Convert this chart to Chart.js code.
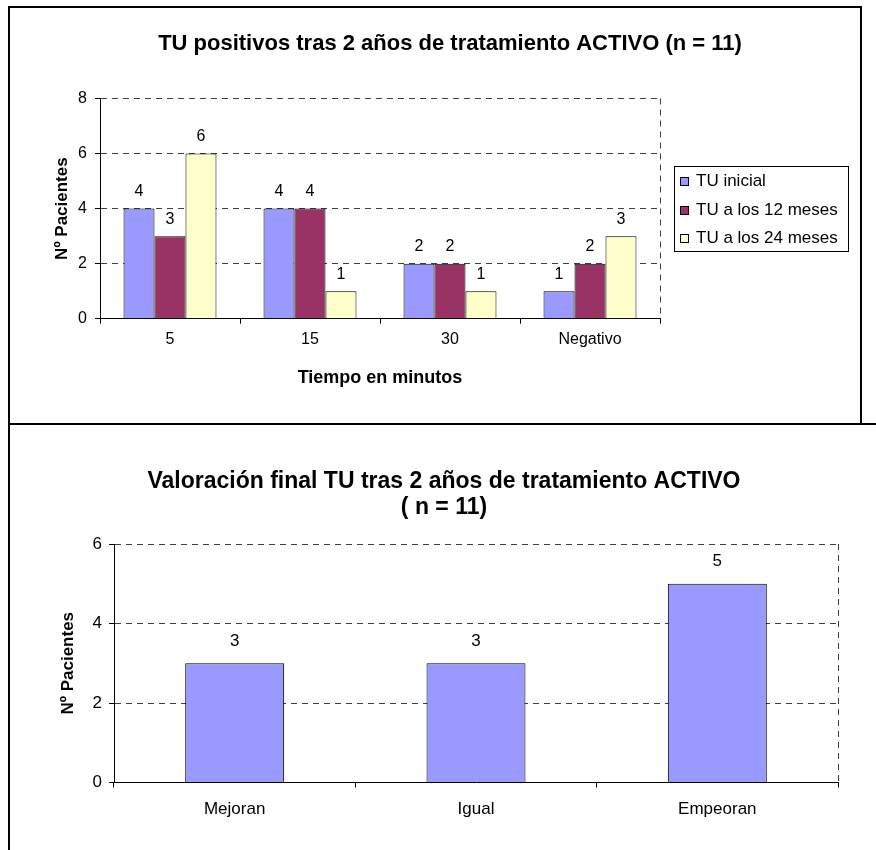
<!DOCTYPE html>
<html lang="es">
<head>
<meta charset="utf-8">
<title>TU tras 2 años de tratamiento ACTIVO</title>
<script src="https://cdn.jsdelivr.net/npm/chart.js@4/dist/chart.umd.min.js"></script>
<style>
  html, body { margin: 0; padding: 0; background: #fff; }
  body { width: 876px; height: 850px; position: relative; overflow: hidden; }
  .rule { position: absolute; background: #000; }
  canvas { position: absolute; left: 0; }
</style>
</head>
<body>
<!-- frame lines around the two charts -->
<div class="rule" style="left:8px;top:6px;width:854px;height:2px;"></div>
<div class="rule" style="left:8px;top:6px;width:2px;height:844px;"></div>
<div class="rule" style="left:860px;top:6px;width:2px;height:419px;"></div>
<div class="rule" style="left:8px;top:423px;width:868px;height:2px;"></div>

<canvas id="chartTiempos" width="876" height="422" style="top:0;"></canvas>
<canvas id="chartValoracion" width="876" height="425" style="top:425px;"></canvas>

<script>
// ---- data ----
const tiempos = ['5', '15', '30', 'Negativo'];
const serieNombres = ['TU inicial', 'TU a los 12 meses', 'TU a los 24 meses'];
const tuInicial = [4, 4, 2, 1];
const tu12Meses = [3, 4, 2, 2];
const tu24Meses = [6, 1, 1, 3];
const ticksTiempos = [0, 2, 4, 6, 8];

const valoraciones = ['Mejoran', 'Igual', 'Empeoran'];
const pacientesFinal = [3, 3, 5];
const ticksValoracion = [0, 2, 4, 6];

// ---- shared styling ----
const FONT = 'Arial, "Liberation Sans", sans-serif';
Chart.defaults.font.family = FONT;
Chart.defaults.color = '#000';
const GRID_GREY = '#404040';
const DASH = [6, 5];

// centre the chart title on a chosen x instead of the padded layout box
const titleCentre = {
  id: 'titleCentre',
  afterLayout(chart, args, opts) {
    const t = chart.titleBlock;
    if (!t || opts.x === undefined) return;
    t.left = opts.x - opts.half;
    t.right = opts.x + opts.half;
  }
};

// value written above every bar
const valueLabels = {
  id: 'valueLabels',
  afterDatasetsDraw(chart, args, opts) {
    const ctx = chart.ctx;
    ctx.save();
    ctx.font = opts.size + 'px ' + FONT;
    ctx.fillStyle = '#000';
    ctx.textAlign = 'center';
    ctx.textBaseline = 'middle';
    chart.data.datasets.forEach((ds, i) => {
      chart.getDatasetMeta(i).data.forEach((bar, j) => {
        ctx.fillText(String(ds.data[j]), bar.x, bar.y - opts.gap);
      });
    });
    ctx.restore();
  }
};

// dashed right edge of the plot area
const plotEdge = {
  id: 'plotEdge',
  beforeDatasetsDraw(chart) {
    const { ctx, chartArea: a } = chart;
    ctx.save();
    ctx.strokeStyle = GRID_GREY;
    ctx.lineWidth = 1;
    ctx.setLineDash(DASH);
    const x = Math.round(a.right) + 0.5;
    ctx.beginPath();
    ctx.moveTo(x, a.top);
    ctx.lineTo(x, a.bottom);
    ctx.stroke();
    ctx.restore();
  }
};

// legend inside a thin black box
const boxedLegend = {
  id: 'boxedLegend',
  afterDraw(chart, args, o) {
    if (!o || !o.display) return;
    const ctx = chart.ctx;
    ctx.save();
    ctx.fillStyle = '#fff';
    ctx.fillRect(o.x, o.y, o.w, o.h);
    ctx.strokeStyle = '#000';
    ctx.lineWidth = 1;
    ctx.strokeRect(o.x + 0.5, o.y + 0.5, o.w, o.h);
    ctx.font = o.size + 'px ' + FONT;
    ctx.textBaseline = 'middle';
    ctx.textAlign = 'left';
    chart.data.datasets.forEach((ds, i) => {
      const cy = Math.round(o.y + o.first + i * o.step);
      ctx.fillStyle = ds.backgroundColor;
      ctx.fillRect(o.x + o.swatchX, cy - 4, 8, 8);
      ctx.strokeRect(o.x + o.swatchX + 0.5, cy - 3.5, 8, 8);
      ctx.fillStyle = '#000';
      ctx.fillText(ds.label, o.x + o.textX, cy);
    });
    ctx.restore();
  }
};

function axisY(ticks, opts) {
  return {
    min: ticks[0],
    max: ticks[ticks.length - 1],
    ticks: { stepSize: ticks[1] - ticks[0], font: { size: opts.tickSize }, color: '#000', padding: opts.tickPad },
    grid: { color: GRID_GREY, lineWidth: 1, tickColor: '#000', tickLength: 5, tickBorderDash: [] },
    border: { display: true, color: '#000', width: 1, dash: DASH },
    title: { display: true, text: 'Nº Pacientes', color: '#000',
             font: { size: opts.titleSize, weight: 'bold' }, padding: { top: opts.titlePad, bottom: 0 } },
    afterFit(scale) { scale.width = opts.width; }
  };
}

function axisX(opts) {
  const axis = {
    grid: { display: true, drawOnChartArea: false, drawTicks: true, tickLength: 5, color: '#000', tickColor: '#000', offset: true },
    border: { display: true, color: '#000', width: 1 },
    ticks: { font: { size: opts.tickSize }, color: '#000', padding: opts.tickPad, maxRotation: 0, autoSkip: false },
    afterFit(scale) { scale.height = opts.height; }
  };
  if (opts.title) {
    axis.title = { display: true, text: opts.title, color: '#000',
                   font: { size: opts.titleSize, weight: 'bold' }, padding: { top: 0, bottom: opts.titlePad } };
  }
  return axis;
}

// ---- chart 1: positive TU by reading time ----
new Chart(document.getElementById('chartTiempos'), {
  type: 'bar',
  data: {
    labels: tiempos,
    datasets: [
      { label: serieNombres[0], data: tuInicial, backgroundColor: '#9999FF' },
      { label: serieNombres[1], data: tu12Meses, backgroundColor: '#993366' },
      { label: serieNombres[2], data: tu24Meses, backgroundColor: '#FFFFCC' }
    ]
  },
  options: {
    responsive: false,
    animation: false,
    layout: { padding: { left: 0, top: 0, right: 216, bottom: 0 } },
    datasets: { bar: { borderColor: '#000', borderWidth: 1, categoryPercentage: 0.664, barPercentage: 1 } },
    plugins: {
      legend: { display: false },
      tooltip: { enabled: false },
      title: {
        display: true,
        text: 'TU positivos tras 2 años de tratamiento ACTIVO (n = 11)',
        color: '#000',
        font: { size: 22, weight: 'bold' },
        padding: { top: 30.8, bottom: 41.3 }
      },
      titleCentre: { x: 450, half: 420 },
      valueLabels: { size: 16, gap: 17 },
      boxedLegend: { display: true, x: 674, y: 166, w: 174, h: 85, size: 17,
                     first: 15, step: 28.7, swatchX: 6, textX: 22 }
    },
    scales: {
      // plot spans y 98.5 .. 318.7 on this 422 px canvas
      x: axisX({ tickSize: 16, tickPad: 6.7, height: 103.3,
                 title: 'Tiempo en minutos', titleSize: 18, titlePad: 33.4 }),
      y: axisY(ticksTiempos, { tickSize: 16, tickPad: 8, titleSize: 17, titlePad: 51.8, width: 100 })
    }
  },
  plugins: [titleCentre, plotEdge, valueLabels, boxedLegend]
});

// ---- chart 2: final assessment ----
new Chart(document.getElementById('chartValoracion'), {
  type: 'bar',
  data: {
    labels: valoraciones,
    datasets: [
      { label: 'Nº Pacientes', data: pacientesFinal, backgroundColor: '#9999FF' }
    ]
  },
  options: {
    responsive: false,
    animation: false,
    layout: { padding: { left: 0, top: 0, right: 38, bottom: 0 } },
    datasets: { bar: { borderColor: '#000', borderWidth: 1, categoryPercentage: 0.41, barPercentage: 1 } },
    plugins: {
      legend: { display: false },
      tooltip: { enabled: false },
      title: {
        display: true,
        text: ['Valoración final TU tras 2 años de tratamiento ACTIVO', '( n = 11)'],
        color: '#000',
        font: { size: 23, weight: 'bold', lineHeight: 26 / 23 },
        padding: { top: 44, bottom: 23 }
      },
      titleCentre: { x: 444, half: 420 },
      valueLabels: { size: 17, gap: 22 }
    },
    scales: {
      // plot spans y 119 .. 357.5 on this 425 px canvas
      x: axisX({ tickSize: 17, tickPad: 11.3, height: 67.5 }),
      y: axisY(ticksValoracion, { tickSize: 17, tickPad: 7, titleSize: 17, titlePad: 57.8, width: 114 })
    }
  },
  plugins: [titleCentre, plotEdge, valueLabels]
});
</script>
</body>
</html>
